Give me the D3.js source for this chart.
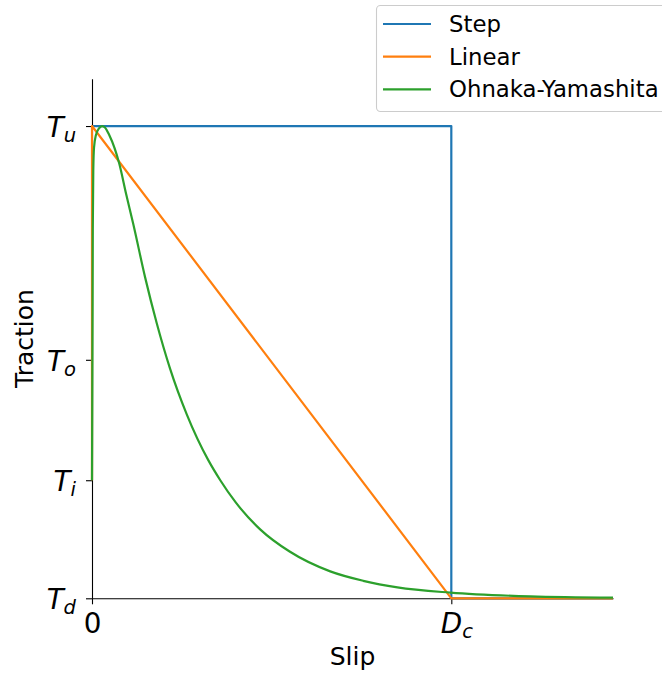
<!DOCTYPE html>
<html>
<head>
<meta charset="utf-8">
<script src="https://cdn.jsdelivr.net/npm/d3@7"></script>
<style>
  body { margin: 0; background: #fff; }
  svg { display: block; font-family: "DejaVu Sans", sans-serif; }
</style>
</head>
<body>
<div id="chart"></div>
<script>
// slip in units of Dc, traction scaled so Td = 0 and Tu = 1
var seriesNames = ['Step', 'Linear', 'Ohnaka-Yamashita'];
var seriesColors = ['#1f77b4', '#ff7f0e', '#2ca02c'];

var stepSlip = [0, 1, 1, 1.45];
var stepTraction = [1, 1, 0, 0];

var linearSlip = [0, 0, 1, 1.45];
var linearTraction = [0.25, 1, 0, 0];

var oySlip = [0, 0.0008, 0.0017, 0.0022, 0.0036, 0.0056, 0.011, 0.0195, 0.028, 0.036, 0.048,
    0.076, 0.095, 0.115, 0.148, 0.18, 0.217, 0.264, 0.324, 0.357, 0.4, 0.468, 0.55, 0.663, 0.755,
    0.85, 0.997, 1.22, 1.45];
var oyTraction = [0.25, 0.42, 0.632, 0.78, 0.907, 0.954, 0.981, 0.995, 1.0, 0.997, 0.981,
    0.92, 0.856, 0.792, 0.679, 0.583, 0.487, 0.389, 0.292, 0.25, 0.203, 0.146, 0.099, 0.057, 0.037,
    0.023, 0.012, 0.004, 0.0013];

var tractionTicks = [0, 0.25, 0.505, 1];
var tractionTickBase = ['T', 'T', 'T', 'T'];
var tractionTickSub = ['d', 'i', 'o', 'u'];

var slipTicks = [0, 1];
var slipTickBase = ['0', 'D'];
var slipTickSub = ['', 'c'];

var width = 662, height = 675;
var svg = d3.select('#chart').append('svg')
    .attr('width', width)
    .attr('height', height);

var x = d3.scaleLinear().domain([0, 1.45]).range([92, 613]);
var y = d3.scaleLinear().domain([0, 1.1]).range([598.3, 78.8]);

// axes
var yAxis = svg.append('g')
    .attr('transform', 'translate(' + x(0) + ',0)')
    .call(d3.axisLeft(y).tickValues(tractionTicks).tickSize(6).tickSizeOuter(0).tickFormat(function () { return ''; }));
var xAxis = svg.append('g')
    .attr('transform', 'translate(0,' + y(0) + ')')
    .call(d3.axisBottom(x).tickValues(slipTicks).tickSize(6).tickSizeOuter(0).tickFormat(function () { return ''; }));

[yAxis, xAxis].forEach(function (ax) {
    ax.selectAll('path.domain, line').attr('stroke', '#000').attr('stroke-width', 1.1);
    ax.selectAll('text').remove();
});

function mathLabel(g, base, sub) {
    var t = g.append('text')
        .attr('font-family', 'DejaVu Sans')
        .attr('fill', '#000');
    t.append('tspan')
        .attr('font-style', base === '0' ? 'normal' : 'italic')
        .attr('font-size', 27.8)
        .text(base);
    if (sub) {
        t.append('tspan')
            .attr('font-style', 'italic')
            .attr('font-size', 19.5)
            .attr('dy', 5)
            .text(sub);
    }
    return t;
}

yAxis.selectAll('.tick').each(function (d, i) {
    var t = mathLabel(d3.select(this), tractionTickBase[i], tractionTickSub[i]);
    t.attr('text-anchor', 'end').attr('x', -16).attr('y', 10.5);
});
xAxis.selectAll('.tick').each(function (d, i) {
    var t = mathLabel(d3.select(this), slipTickBase[i], slipTickSub[i]);
    t.attr('text-anchor', 'middle').attr('x', slipTickSub[i] ? 5 : 0).attr('y', 34.5);
});

// axis titles
svg.append('text')
    .attr('x', (x(0) + x(1.45)) / 2)
    .attr('y', 665)
    .attr('text-anchor', 'middle')
    .attr('font-size', 25)
    .text('Slip');
svg.append('text')
    .attr('transform', 'translate(33,' + (y(0) + y(1.1)) / 2 + ') rotate(-90)')
    .attr('text-anchor', 'middle')
    .attr('font-size', 25)
    .text('Traction');

// curves
var line = d3.line()
    .x(function (d) { return x(d[0]); })
    .y(function (d) { return y(d[1]); });
var smooth = d3.line()
    .x(function (d) { return x(d[0]); })
    .y(function (d) { return y(d[1]); })
    .curve(d3.curveMonotoneX);

var curves = [
    { pts: d3.zip(stepSlip, stepTraction), gen: line },
    { pts: d3.zip(linearSlip, linearTraction), gen: line },
    { pts: d3.zip(oySlip, oyTraction), gen: smooth }
];
curves.forEach(function (c, i) {
    svg.append('path')
        .attr('d', c.gen(c.pts))
        .attr('fill', 'none')
        .attr('stroke', seriesColors[i])
        .attr('stroke-width', 2.2)
        .attr('stroke-linejoin', 'round');
});

// legend
var legend = svg.append('g');
legend.append('rect')
    .attr('x', 376.5).attr('y', 5.5)
    .attr('width', 320).attr('height', 106)
    .attr('rx', 4)
    .attr('fill', '#fff').attr('fill-opacity', 0.8)
    .attr('stroke', '#cccccc').attr('stroke-width', 1.1);
seriesNames.forEach(function (name, i) {
    var cy = 24 + i * 32.7;
    legend.append('line')
        .attr('x1', 383).attr('x2', 431)
        .attr('y1', cy).attr('y2', cy)
        .attr('stroke', seriesColors[i])
        .attr('stroke-width', 2.2);
    legend.append('text')
        .attr('x', 449).attr('y', cy + 8)
        .attr('font-size', 22.8)
        .text(name);
});
</script>
</body>
</html>
